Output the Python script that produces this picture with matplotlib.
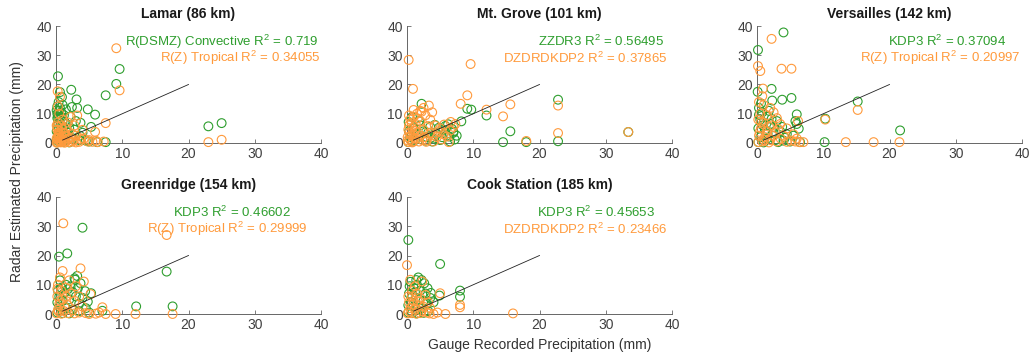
import matplotlib
matplotlib.use("Agg")
import matplotlib.pyplot as plt
import numpy as np

plt.rcParams['font.family'] = ['Liberation Sans', 'DejaVu Sans']
plt.rcParams['mathtext.default'] = 'regular'

GREEN = '#2e9e2e'
ORANGE = '#ff9a3c'

titles = ['Lamar (86 km)', 'Mt. Grove (101 km)', 'Versailles (142 km)',
          'Greenridge (154 km)', 'Cook Station (185 km)']
green_labels = ['R(DSMZ) Convective R$^2$ = 0.719', 'ZZDR3 R$^2$ = 0.56495',
                'KDP3 R$^2$ = 0.37094', 'KDP3 R$^2$ = 0.46602', 'KDP3 R$^2$ = 0.45653']
orange_labels = ['R(Z) Tropical R$^2$ = 0.34055', 'DZDRDKDP2 R$^2$ = 0.37865',
                 'R(Z) Tropical R$^2$ = 0.20997', 'R(Z) Tropical R$^2$ = 0.29999',
                 'DZDRDKDP2 R$^2$ = 0.23466']

lamar_green = [(0.3,22.8),(0.6,17.4),(2.3,18.2),(0.9,15.7),(3.1,14.9),(2.4,12.3),(3.2,12.0),(4.8,11.5),
               (5.9,9.7),(7.5,16.3),(9.1,20.2),(9.6,25.3),(23.0,5.7),(25.0,6.8),(5.3,5.5),(3.7,6.9),
               (7.5,0.3),(6.2,0.3),(0.2,12.5),(0.5,11.0),(0.8,10.5),(1.2,9.5),(0.3,9.0),(0.6,8.0),
               (1.0,7.5),(1.5,6.5),(0.2,6.0),(0.4,5.0),(2.0,5.0),(2.8,4.5),(1.8,3.5),(0.3,3.0),
               (0.7,2.5),(1.3,2.0),(2.5,1.5),(3.5,1.0),(4.5,0.8),(0.1,1.0),(0.5,0.5),(1.0,0.3),
               (2.0,0.2),(4.0,3.5),(3.0,7.5),(1.5,11.5),(1.0,13.0),(0.4,14.0),(5.0,0.5),(0.2,0.2),
               (2.2,9.0),(3.6,2.5),(0.1,4.0),(0.3,7.0),(0.7,4.5),(1.1,5.5),(0.2,10.0),(0.5,2.0),
               (0.9,3.0),(1.4,1.0),(0.6,12.0),(0.2,8.5),(0.1,11.2),(0.4,9.8),(0.8,8.8),(1.3,7.2)]
lamar_orange = [(9.1,32.4),(9.6,18.0),(0.25,17.7),(0.6,15.8),(7.5,6.8),(23.0,0.3),(25.0,1.1),(3.2,9.4),
                (2.2,8.9),(5.9,3.8),(4.2,1.5),(7.2,0.5),(6.3,0.3),(0.5,10.0),(1.0,8.0),(0.3,7.0),
                (0.8,6.0),(1.5,5.0),(0.2,4.5),(0.6,4.0),(1.2,3.5),(2.5,3.0),(3.0,2.5),(0.4,2.5),
                (0.9,2.0),(1.8,1.5),(0.1,1.5),(0.5,1.0),(1.0,0.8),(1.5,0.5),(2.5,0.5),(3.5,0.4),
                (4.8,0.5),(5.5,0.4),(0.2,0.3),(0.7,0.2),(1.3,0.1),(2.0,0.3),(3.0,0.2),(0.3,12.5),
                (1.8,7.0),(4.0,4.5),(2.8,6.0),(0.1,0.1),(0.6,0.6),(0.2,2.0),(0.4,3.5),(0.1,6.0),
                (1.1,1.2),(0.8,0.4),(3.8,1.2),(5.0,1.0),(6.0,0.8),(0.3,0.9),(0.7,1.5),(1.2,0.5),
                (0.5,3.0),(0.9,4.8),(1.6,2.5),(2.2,1.8),(0.2,5.5),(1.4,3.2),(2.7,1.0),(0.4,1.8)]

grove_green = [(2.2,13.4),(9.1,11.7),(9.7,11.4),(12.0,9.4),(15.6,4.0),(14.5,0.3),(18.0,0.3),(22.8,14.8),
               (22.8,0.6),(33.4,3.75),(8.2,7.4),(0.25,7.2),(0.75,8.9),(7.0,3.5),(6.0,2.5),(5.5,4.5),
               (4.5,3.0),(3.5,5.5),(3.0,2.0),(2.5,4.0),(2.0,6.0),(1.5,3.0),(1.0,5.0),(0.5,2.0),
               (0.3,4.0),(1.2,1.0),(2.8,0.8),(4.0,1.5),(5.0,1.0),(6.5,0.5),(7.5,2.5),(6.8,4.8),
               (3.8,0.5),(1.8,7.5),(0.8,0.5),(0.2,0.3),(4.2,6.2),(5.8,5.8),(7.2,1.2),(3.2,3.5),
               (6.4,2.2),(7.0,3.9),(4.8,5.2),(5.3,2.0),(3.6,1.8),(6.2,6.4)]
grove_orange = [(0.25,28.4),(0.9,18.5),(9.6,27.0),(9.1,16.3),(8.1,13.4),(12.0,11.4),(14.5,9.1),(15.6,13.2),
                (22.8,12.8),(22.8,3.4),(18.0,0.7),(33.4,3.75),(3.3,12.8),(2.0,11.0),(2.5,12.0),(6.6,7.2),
                (6.3,0.3),(1.5,10.0),(1.0,9.0),(0.5,8.0),(0.3,6.0),(0.8,5.0),(1.3,6.5),(2.0,7.5),
                (2.8,9.5),(3.5,8.0),(4.2,6.0),(5.0,5.0),(5.5,3.0),(4.5,2.0),(3.5,3.5),(2.5,4.5),
                (2.0,2.5),(1.5,1.5),(1.0,3.0),(0.5,1.0),(0.2,0.3),(0.8,0.2),(1.8,0.5),(3.0,1.0),
                (4.0,0.5),(5.2,1.2),(6.0,2.2),(7.0,5.5),(3.8,10.5),(1.2,4.2),(0.4,3.5),(0.1,2.0),
                (2.3,1.0),(7.3,6.5),(1.0,11.3),(2.2,10.7),(0.2,4.6),(0.6,2.6),(1.1,1.8),(1.7,3.6),
                (2.6,2.0),(3.2,5.8),(4.6,4.0),(0.3,9.4),(0.7,6.8),(1.6,8.4),(0.1,0.9),(2.9,0.4),
                (3.9,2.6),(5.6,6.3),(6.5,4.2),(0.9,0.6)]

vers_green = [(4.0,37.8),(0.15,31.8),(0.1,17.5),(2.2,18.5),(2.3,14.5),(3.8,14.8),(5.2,15.4),(6.0,9.8),
              (6.3,4.9),(15.2,14.2),(21.6,4.3),(10.3,8.3),(10.2,0.3),(0.3,12.0),(0.8,10.5),(1.5,9.0),
              (0.5,8.0),(1.0,7.0),(2.0,6.5),(3.0,7.5),(0.2,5.0),(1.2,4.5),(2.5,3.5),(3.5,4.0),
              (4.5,3.0),(5.5,2.5),(6.0,6.5),(0.5,2.0),(1.5,1.5),(2.8,1.0),(4.0,0.8),(5.0,0.5),
              (6.5,0.3),(0.2,0.3),(1.0,0.2),(3.2,0.3),(1.8,11.0),(0.6,13.5),(3.8,5.5),(2.2,8.2),
              (5.8,7.5),(0.9,6.0),(1.6,3.2),(2.6,5.4),(4.2,1.8),(0.3,9.6)]
vers_orange = [(2.2,35.6),(0.15,26.3),(0.5,24.6),(3.7,25.4),(5.2,25.4),(0.9,18.6),(15.2,11.3),(10.3,8.0),
               (13.4,0.3),(17.6,0.3),(21.5,0.3),(6.4,0.3),(0.3,14.0),(1.0,13.0),(2.0,12.0),(2.5,10.5),
               (0.5,10.0),(1.5,9.5),(3.0,8.5),(0.2,8.0),(1.0,7.0),(2.2,6.0),(3.5,6.5),(4.5,5.0),
               (0.6,5.0),(1.5,4.0),(2.8,3.5),(4.0,2.5),(5.5,3.0),(6.0,1.5),(0.3,2.5),(1.2,2.0),
               (2.0,1.0),(3.0,0.5),(4.5,0.4),(5.2,0.8),(7.0,0.3),(0.2,0.3),(0.8,0.5),(1.8,0.2),
               (6.2,7.5),(3.2,4.8),(0.8,16.0),(0.4,3.8),(1.1,1.0),(2.4,2.4),(3.6,1.4),(0.6,7.2),
               (1.8,5.6),(5.8,0.5)]

green_ridge_green = [(4.0,29.5),(0.45,19.6),(1.7,20.7),(16.7,14.5),(12.1,2.6),(17.6,2.6),(7.0,1.1),(3.2,13.0),
                     (2.9,11.7),(3.7,10.5),(2.2,9.4),(5.3,7.1),(4.8,4.2),(0.3,8.0),(0.8,9.0),(1.5,10.0),
                     (0.5,6.0),(1.2,7.0),(2.5,7.5),(3.0,6.0),(4.0,5.5),(0.2,4.0),(1.0,4.5),(2.0,5.0),
                     (3.5,3.5),(4.5,2.0),(0.5,2.5),(1.5,2.0),(2.5,1.5),(3.5,1.0),(0.2,0.5),(1.0,0.3),
                     (2.0,0.2),(5.0,0.5),(2.8,12.2),(1.8,8.5),(0.6,11.5),(4.4,7.8),(3.3,8.8)]
green_ridge_orange = [(1.1,31.0),(16.7,27.0),(1.0,14.7),(3.7,15.6),(4.2,11.1),(9.0,0.0),(12.0,0.0),(17.6,0.0),
                      (7.5,0.0),(7.0,2.3),(5.0,0.0),(0.3,10.0),(0.8,8.0),(1.5,9.0),(2.2,7.0),(0.2,6.0),
                      (1.0,5.0),(2.8,4.5),(3.5,6.0),(0.5,3.5),(1.8,3.0),(4.0,2.5),(0.3,1.5),(1.2,1.0),
                      (2.5,1.2),(3.5,0.5),(4.5,0.3),(0.1,0.2),(0.8,0.1),(1.8,0.3),(2.8,0.2),(6.0,0.1),
                      (5.2,6.8),(0.6,12.5),(2.0,11.5),(3.0,9.5),(1.5,6.0),(6.5,0.5),(0.2,8.6),(0.6,4.6),
                      (1.3,2.4),(0.4,0.8)]

cook_green = [(0.2,25.3),(5.0,17.1),(1.7,12.5),(2.2,11.6),(8.0,8.0),(8.0,5.9),(4.9,6.3),(3.1,8.8),
              (0.5,11.0),(1.0,9.0),(1.5,10.0),(2.0,8.0),(2.8,7.0),(3.5,5.5),(0.3,7.0),(0.8,6.0),
              (1.2,7.5),(1.8,5.0),(2.5,4.5),(3.0,3.5),(4.0,4.0),(0.2,3.0),(0.6,4.0),(1.0,2.5),
              (1.5,1.5),(2.2,2.0),(3.2,1.0),(0.2,0.5),(0.8,0.3),(1.5,0.2),(2.5,0.4),(0.4,9.5),
              (2.6,10.5),(1.4,11.6),(3.6,7.2)]
cook_orange = [(0.0,16.7),(16.0,0.2),(8.0,3.1),(8.0,2.3),(5.0,7.1),(2.3,11.1),(0.5,11.7),(5.8,0.0),
               (4.0,0.0),(0.2,6.0),(0.8,8.0),(1.5,7.0),(2.0,5.5),(2.8,6.5),(0.3,4.0),(1.0,4.5),
               (1.8,3.0),(2.5,2.5),(3.5,2.0),(0.5,2.0),(1.2,1.5),(2.2,1.0),(3.0,0.5),(0.1,0.2),
               (0.6,0.3),(1.4,0.1),(2.0,0.3),(3.4,0.2),(4.6,0.5),(1.2,9.5),(0.7,6.0),(3.2,4.0),
               (0.3,1.0),(0.9,3.2),(1.6,4.4)]

green_sets = [lamar_green, grove_green, vers_green, green_ridge_green, cook_green]
orange_sets = [lamar_orange, grove_orange, vers_orange, green_ridge_orange, cook_orange]

# text placement (centre x of each label line, in data units)
green_text_x = [25.1, 29.3, 28.7, 26.6, 28.6]
orange_text_x = [27.8, 26.9, 27.7, 25.8, 26.9]

one_to_one = [1, 20]
ticks = [0, 10, 20, 30, 40]

W, H = 1031, 360
lefts = [56, 407, 757, 56, 407]
bottoms = [143, 143, 143, 314, 314]

fig = plt.figure(figsize=(W / 100, H / 100), dpi=100)
axes = []
for i in range(5):
    ax = fig.add_axes([lefts[i] / W, 1 - bottoms[i] / H, 265 / W, 117 / H])
    g = np.array(green_sets[i])
    o = np.array(orange_sets[i])
    ax.scatter(g[:, 0], g[:, 1], s=40, facecolors='none', edgecolors=GREEN,
               linewidths=0.8, clip_on=False, zorder=3)
    ax.scatter(o[:, 0], o[:, 1], s=40, facecolors='none', edgecolors=ORANGE,
               linewidths=0.8, clip_on=False, zorder=4)
    ax.plot(one_to_one, one_to_one, color='#222222', linewidth=0.6, zorder=5)
    ax.set_xlim(0, 40)
    ax.set_ylim(0, 40)
    ax.set_xticks(ticks)
    ax.set_yticks(ticks)
    for s in ['top', 'right']:
        ax.spines[s].set_visible(False)
    for s in ['left', 'bottom']:
        ax.spines[s].set_color('#666666')
        ax.spines[s].set_linewidth(0.7)
    ax.tick_params(direction='in', length=3, width=0.6, color='#666666',
                   labelsize=10, labelcolor='#404040', pad=3)
    ax.set_title(titles[i], fontsize=10, fontweight='bold', color='#1a1a1a', pad=6)
    ax.text(green_text_x[i], 34.7, green_labels[i], color=GREEN, fontsize=9.5,
            ha='center', va='center')
    ax.text(orange_text_x[i], 29.0, orange_labels[i], color=ORANGE, fontsize=9.5,
            ha='center', va='center')
    axes.append(ax)

axes[4].set_xlabel('Gauge Recorded Precipitation (mm)', fontsize=10, color='#333333', labelpad=4)
fig.text(17 / W, 1 - 172 / H, 'Radar Estimated Precipitation (mm)', rotation=90,
         fontsize=10, color='#333333', ha='center', va='center')

fig.savefig('out.png', dpi=100)
